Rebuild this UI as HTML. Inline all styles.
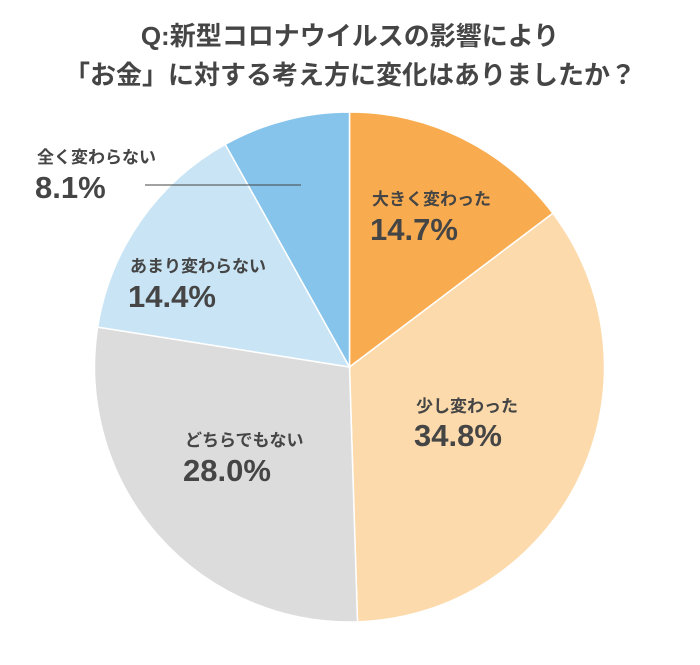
<!DOCTYPE html>
<html><head><meta charset="utf-8"><style>
body{margin:0;background:#fff;}
svg text{font-family:"Liberation Sans","Noto Sans CJK JP",sans-serif;fill:#454545;font-weight:bold;}
</style></head><body>
<svg id="c" width="700" height="660" viewBox="0 0 700 660">
<text x="350" y="45" text-anchor="middle" font-size="26">Q:新型コロナウイルスの影響により</text>
<text x="350" y="84" text-anchor="middle" font-size="26">「お金」に対する考え方に変化はありましたか？</text>
<g id="slices"></g>
<g id="labels"></g>
<line x1="145" y1="185" x2="301" y2="185" stroke="#444" stroke-width="1"/>
</svg>
<script>
const categories=["大きく変わった","少し変わった","どちらでもない","あまり変わらない","全く変わらない"];
const values=[14.7,34.8,28.0,14.4,8.1];
const valueLabels=["14.7%","34.8%","28.0%","14.4%","8.1%"];
const colors=["#F9AC4F","#FCDAAB","#DCDCDC","#C9E5F5","#86C4EC"];
const labelPos=[[372,205,240],[416,412,446],[185,446,481],[130,272,307],[37,163,198]];
const cx=349.5,cy=367,r=255;
const ns="http://www.w3.org/2000/svg";
const total=values.reduce((a,b)=>a+b,0);
const gS=document.getElementById("slices"),gL=document.getElementById("labels");
let acc=0;
function pt(f){const a=f*2*Math.PI-Math.PI/2;return [cx+r*Math.cos(a),cy+r*Math.sin(a)];}
values.forEach((v,i)=>{
  const f0=acc/total;acc+=v;const f1=acc/total;
  const p0=pt(f0),p1=pt(f1);const large=(f1-f0)>0.5?1:0;
  const p=document.createElementNS(ns,"path");
  p.setAttribute("d",`M${cx},${cy}L${p0[0]},${p0[1]}A${r},${r} 0 ${large} 1 ${p1[0]},${p1[1]}Z`);
  p.setAttribute("fill",colors[i]);p.setAttribute("stroke","#fff");p.setAttribute("stroke-width","1.5");
  
  
  gS.appendChild(p);
  const lp=labelPos[i];
  const t1=document.createElementNS(ns,"text");
  t1.setAttribute("x",lp[0]);t1.setAttribute("y",lp[1]);t1.setAttribute("font-size","17");
  t1.textContent=categories[i];
  
  
  gL.appendChild(t1);
  const t2=document.createElementNS(ns,"text");
  t2.setAttribute("x",lp[0]-2);t2.setAttribute("y",lp[2]);t2.setAttribute("font-size","31");
  t2.textContent=valueLabels[i];
  
  
  gL.appendChild(t2);
});
</script>
</body></html>
